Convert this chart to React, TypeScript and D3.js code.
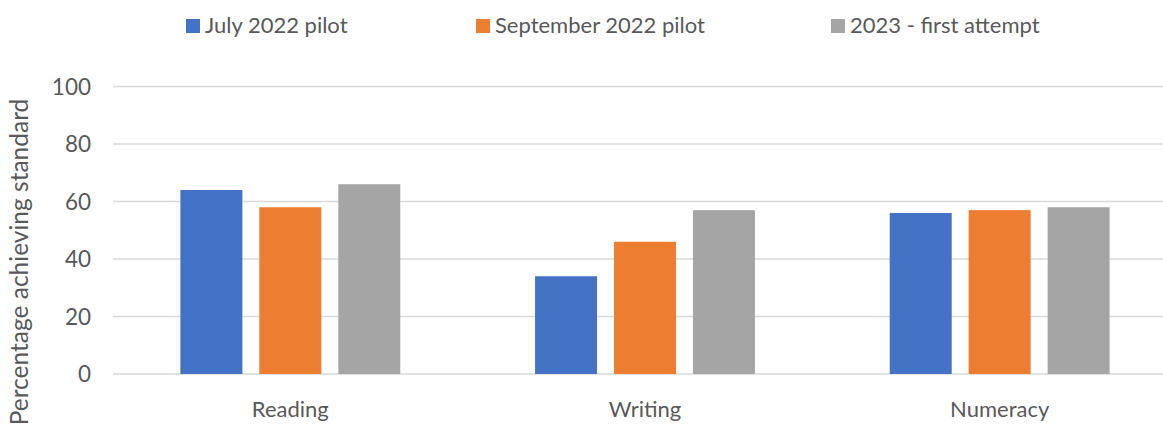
import React from "react";
import * as d3 from "d3";

const categories = ["Reading", "Writing", "Numeracy"];
const seriesNames = ["July 2022 pilot", "September 2022 pilot", "2023 - first attempt"];
const july2022 = [64, 34, 56];
const sept2022 = [58, 46, 57];
const first2023 = [66, 57, 58];
const seriesValues = [july2022, sept2022, first2023];
const colors = ["#4472C4", "#ED7D31", "#A5A5A5"];
const yTicks = [0, 20, 40, 60, 80, 100];

const W = 1163;
const H = 425;
const FONT = "Lato, 'Open Sans', sans-serif";

export default function App() {
  const x0 = d3.scaleBand<string>().domain(categories).range([113, 1177]).paddingInner(0.38).paddingOuter(0.19);
  const x1 = d3.scaleBand<string>().domain(seriesNames).range([0, x0.bandwidth()]).paddingInner(0.215);
  const y = d3.scaleLinear().domain([0, 100]).range([374, 86.5]);

  const legendX = [186, 476, 831];

  return (
    <svg width={W} height={H} style={{ position: "absolute", left: 0, top: 0, background: "#fff" }} fontFamily={FONT}>
      <rect x={0} y={0} width={W} height={H} fill="#fff" />
      {yTicks.map((t) => (
        <g key={t}>
          <line x1={113} x2={1177} y1={y(t)} y2={y(t)} stroke="#d9d9d9" strokeWidth={1.5} />
          <text x={91} y={y(t)} dy="0.36em" textAnchor="end" fontSize={22.5} fill="#595959">
            {t}
          </text>
        </g>
      ))}
      {categories.map((c, ci) => (
        <g key={c} transform={`translate(${x0(c)},0)`}>
          {seriesNames.map((s, si) => (
            <rect
              key={s}
              x={x1(s)}
              y={y(seriesValues[si][ci])}
              width={x1.bandwidth()}
              height={y(0) - y(seriesValues[si][ci])}
              fill={colors[si]}
            />
          ))}
          <text x={x0.bandwidth() / 2} y={417} textAnchor="middle" fontSize={22} fill="#595959">
            {c}
          </text>
        </g>
      ))}
      <text
        transform={`translate(28,262) rotate(-90)`}
        textAnchor="middle"
        fontSize={24.5}
        fill="#595959"
      >
        Percentage achieving standard
      </text>
      {seriesNames.map((s, i) => (
        <g key={s} transform={`translate(${legendX[i]},0)`}>
          <rect x={0} y={19} width={14} height={14} fill={colors[i]} />
          <text x={19} y={33} fontSize={22} fill="#595959">
            {s}
          </text>
        </g>
      ))}
    </svg>
  );
}
